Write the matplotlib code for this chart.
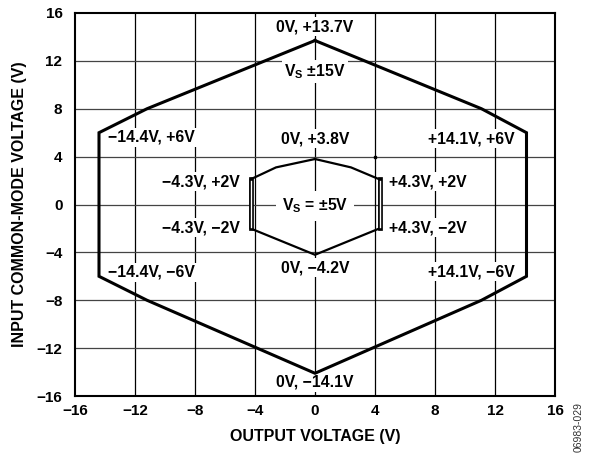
import matplotlib
matplotlib.use("Agg")
import matplotlib.pyplot as plt

plt.rcParams['font.family'] = ['Liberation Sans', 'DejaVu Sans']
plt.rcParams['font.weight'] = 'bold'
plt.rcParams['mathtext.fontset'] = 'custom'
plt.rcParams['mathtext.rm'] = 'Liberation Sans:bold'
plt.rcParams['mathtext.default'] = 'rm'

# Outer boundary (Vs = ±15V)
outer_x = [0, 11.1, 14.1, 14.1, 11.1, 0, -11.2, -14.4, -14.4, -11.2, 0]
outer_y = [13.7, 8.0, 6.0, -6.0, -8.0, -14.1, -8.0, -6.0, 6.0, 8.0, 13.7]

# Inner boundary (Vs = ±5V)
inner_x = [0, 2.4, 4.3, 4.3, 0, -4.3, -4.3, -2.6, 0]
inner_y = [3.8, 3.1, 2.1, -2.0, -4.2, -2.0, 2.1, 3.1, 3.8]

ticks = [-16, -12, -8, -4, 0, 4, 8, 12, 16]

labels = [
    ("0V, +13.7V", 0, 14.85),
    ("V$_S$ ±15V", 0, 11.1),
    ("−14.4V, +6V", -10.9, 5.6),
    ("+14.1V, +6V", 10.45, 5.5),
    ("0V, +3.8V", 0, 5.5),
    ("−4.3V, +2V", -7.6, 1.9),
    ("+4.3V, +2V", 7.55, 1.9),
    ("V$_S$ = ±5V", 0, -0.12),
    ("−4.3V, −2V", -7.6, -1.95),
    ("+4.3V, −2V", 7.55, -1.95),
    ("−14.4V, −6V", -10.9, -5.65),
    ("0V, −4.2V", 0, -5.3),
    ("+14.1V, −6V", 10.4, -5.6),
    ("0V, −14.1V", 0, -14.85),
]

fig = plt.figure(figsize=(5.91, 4.53), dpi=100)
ax = fig.add_axes([75/591, 57/453, 480/591, 383/453])

ax.set_xlim(-16, 16)
ax.set_ylim(-16, 16)
ax.set_xticks(ticks)
ax.set_yticks(ticks)
ax.tick_params(length=0, labelsize=11, pad=6)
ax.tick_params(axis='y', pad=9)
for lab in ax.get_xticklabels() + ax.get_yticklabels():
    lab.set_fontweight('bold')
for s in ax.spines.values():
    s.set_linewidth(1.5)

for t in ticks[1:-1]:
    ax.axvline(t, color='black', lw=0.9, zorder=1)
    ax.axhline(t, color='#444444', lw=0.9, zorder=1)

ax.plot(outer_x, outer_y, color='black', lw=2.2, zorder=3, solid_joinstyle='miter')
ax.plot(inner_x, inner_y, color='black', lw=1.6, zorder=3, solid_joinstyle='miter')
# double-line look on inner vertical edges
for i0, i1 in ((2, 3), (5, 6)):
    xv = inner_x[i0]
    ya, yb = inner_y[i0], inner_y[i1]
    ax.plot([xv, xv], [ya, yb], color='black', lw=3.4, zorder=3)
    lo, hi = min(ya, yb), max(ya, yb)
    ax.plot([xv, xv], [lo + 0.12, hi - 0.12], color='white', lw=1.0, zorder=4)
ax.plot([4], [4], marker='s', ms=2.0, color='black', zorder=4)

for txt, x, y in labels:
    pad = 4 if '=' in txt else 1.5
    ax.text(x, y, txt, ha='center', va='center', fontsize=11.3, fontweight='bold',
            bbox=dict(facecolor='white', edgecolor='none', pad=pad), zorder=2)

ax.set_xlabel("OUTPUT VOLTAGE (V)", fontsize=11.5, fontweight='bold', labelpad=8)
ax.set_ylabel("INPUT COMMON-MODE VOLTAGE (V)", fontsize=11.5, fontweight='bold', labelpad=7)

fig.text(579/591, 1 - 427/453, "06983-029", rotation=90, fontsize=7.5, fontweight='normal',
         ha='center', va='center', color='#333333')

fig.savefig("out.png", dpi=100)
